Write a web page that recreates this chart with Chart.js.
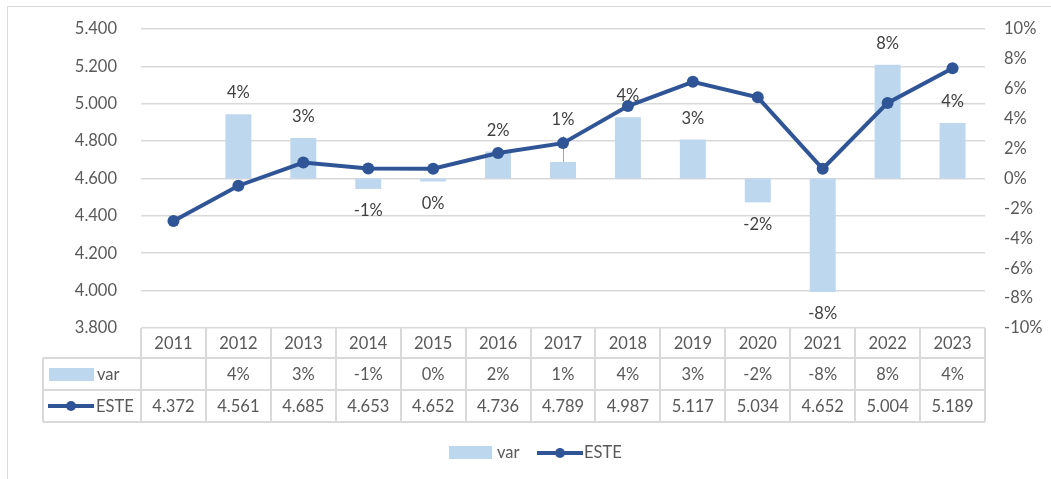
<!DOCTYPE html>
<html><head><meta charset="utf-8">
<script src="https://cdn.jsdelivr.net/npm/chart.js@4.4.1/dist/chart.umd.min.js"></script>
<style>html,body{margin:0;padding:0;background:#fff;overflow:hidden}</style>
</head><body>
<canvas id="c" width="1051" height="479"></canvas>
<script>
const years = ['2011','2012','2013','2014','2015','2016','2017','2018','2019','2020','2021','2022','2023'];
const varPct = [null, 4.3, 2.7, -0.7, -0.2, 1.8, 1.1, 4.1, 2.6, -1.6, -7.6, 7.6, 3.7];
const varLabels = ['', '4%', '3%', '-1%', '0%', '2%', '1%', '4%', '3%', '-2%', '-8%', '8%', '4%'];
const este = [4372, 4561, 4685, 4653, 4652, 4736, 4789, 4987, 5117, 5034, 4652, 5004, 5189];
const leftMin = 3800, leftMax = 5400, leftStep = 200;
const rightMin = -10, rightMax = 10, rightStep = 2;

const FONT = 'Lato, "Open Sans", sans-serif';
const BAR_COLOR = '#BDD7EE';
const LINE_COLOR = '#2F5597';
const GRID = '#D9D9D9';
const TXT = '#595959';
const LBL = '#404040';

const fmt = n => String(n).replace(/\B(?=(\d{3})+(?!\d))/g, '.');

function labelPositions(chart){
  const bars = chart.getDatasetMeta(1).data;
  const pts = chart.getDatasetMeta(0).data;
  const out = [];
  bars.forEach((bar, i) => {
    const v = varPct[i];
    if (v == null) { out.push(null); return; }
    let y = v >= 0 ? bar.y - 21 : bar.y + 22;
    let leader = false;
    const p = pts[i];
    if (p && Math.abs(y - p.y) < 6) { y = p.y - 23; leader = true; }
    out.push({x: bar.x, y, leader, barTop: bar.y});
  });
  return out;
}

const customPlugin = {
  id: 'custom',
  beforeDraw(chart){
    const ctx = chart.ctx;
    ctx.save();
    ctx.strokeStyle = GRID; ctx.lineWidth = 1;
    ctx.strokeRect(7.5, 6.5, chart.width + 20, chart.height + 20);
    ctx.restore();
  },
  beforeDatasetsDraw(chart){
    const ctx = chart.ctx;
    const pos = labelPositions(chart);
    ctx.save();
    ctx.strokeStyle = '#A6A6A6'; ctx.lineWidth = 1;
    pos.forEach(p => {
      if (p && p.leader) {
        ctx.beginPath();
        ctx.moveTo(Math.round(p.x) + 0.5, p.barTop);
        ctx.lineTo(Math.round(p.x) + 0.5, p.y + 16);
        ctx.stroke();
      }
    });
    ctx.restore();
  },
  afterDatasetsDraw(chart){
    const ctx = chart.ctx;
    const pos = labelPositions(chart);
    ctx.save();
    ctx.font = '16.5px ' + FONT;
    ctx.fillStyle = LBL;
    ctx.textAlign = 'center'; ctx.textBaseline = 'middle';
    pos.forEach((p, i) => { if (p) ctx.fillText(varLabels[i], p.x, p.y); });
    ctx.restore();
  },
  afterDraw(chart){
    const ctx = chart.ctx;
    const area = chart.chartArea;
    const n = years.length;
    const colW = (area.right - area.left) / n;
    const top = area.bottom;
    const r1 = top + 30, r2 = r1 + 32, r3 = r2 + 32;
    const legL = 43;
    ctx.save();
    ctx.strokeStyle = GRID; ctx.lineWidth = 2;
    ctx.beginPath();
    ctx.moveTo(legL, r1); ctx.lineTo(area.right, r1);
    ctx.moveTo(legL, r2); ctx.lineTo(area.right, r2);
    ctx.moveTo(legL, r3); ctx.lineTo(area.right, r3);
    for (let i = 0; i <= n; i++) {
      const x = Math.round(area.left + i * colW);
      ctx.moveTo(x, top); ctx.lineTo(x, r3);
    }
    ctx.moveTo(legL, r1); ctx.lineTo(legL, r3);
    ctx.stroke();

    ctx.font = '16.5px ' + FONT;
    ctx.fillStyle = TXT;
    ctx.textAlign = 'center'; ctx.textBaseline = 'middle';
    for (let i = 0; i < n; i++) {
      const cx = area.left + (i + 0.5) * colW;
      ctx.fillText(years[i], cx, (top + r1) / 2 + 1);
      ctx.fillText(varLabels[i], cx, (r1 + r2) / 2 + 1);
      ctx.fillText(fmt(este[i]), cx, (r2 + r3) / 2 + 1);
    }
    ctx.textAlign = 'left';
    ctx.fillStyle = BAR_COLOR;
    ctx.fillRect(49, (r1 + r2) / 2 - 6, 45, 13);
    ctx.fillStyle = TXT;
    ctx.fillText('var', 97, (r1 + r2) / 2 + 1);
    const ey = (r2 + r3) / 2;
    ctx.strokeStyle = LINE_COLOR; ctx.lineWidth = 4;
    ctx.beginPath(); ctx.moveTo(48, ey); ctx.lineTo(94, ey); ctx.stroke();
    ctx.fillStyle = LINE_COLOR;
    ctx.beginPath(); ctx.arc(71, ey, 5, 0, Math.PI * 2); ctx.fill();
    ctx.fillStyle = TXT;
    ctx.fillText('ESTE', 96, ey + 1);

    const ly = 453;
    ctx.fillStyle = BAR_COLOR;
    ctx.fillRect(449, ly - 7, 43, 13);
    ctx.fillStyle = TXT;
    ctx.fillText('var', 497, ly);
    ctx.strokeStyle = LINE_COLOR; ctx.lineWidth = 4;
    ctx.beginPath(); ctx.moveTo(537, ly); ctx.lineTo(583, ly); ctx.stroke();
    ctx.fillStyle = LINE_COLOR;
    ctx.beginPath(); ctx.arc(560, ly, 5, 0, Math.PI * 2); ctx.fill();
    ctx.fillStyle = TXT;
    ctx.fillText('ESTE', 584, ly);
    ctx.restore();
  }
};

new Chart(document.getElementById('c'), {
  data: {
    labels: years,
    datasets: [
      {
        type: 'line', label: 'ESTE', data: este, yAxisID: 'y', order: 0,
        borderColor: LINE_COLOR, backgroundColor: LINE_COLOR, borderWidth: 4,
        pointRadius: 6, pointHoverRadius: 6, pointBackgroundColor: LINE_COLOR,
        pointBorderWidth: 0, tension: 0, fill: false
      },
      {
        type: 'bar', label: 'var', data: varPct, yAxisID: 'y1', order: 1,
        backgroundColor: BAR_COLOR, borderWidth: 0,
        barPercentage: 0.4, categoryPercentage: 1
      }
    ]
  },
  options: {
    responsive: false, animation: false,
    layout: { padding: { top: 20, bottom: 151, left: 0, right: 0 } },
    plugins: { legend: { display: false }, tooltip: { enabled: false } },
    scales: {
      x: { display: false },
      y: {
        position: 'left', min: leftMin, max: leftMax,
        afterFit: a => { a.width = 141; },
        border: { display: false },
        grid: { color: GRID, lineWidth: 1.5, drawTicks: true, tickLength: 5, tickColor: 'rgba(0,0,0,0)' },
        ticks: { stepSize: leftStep, padding: 19, color: TXT, font: { family: FONT, size: 16.5 }, callback: v => fmt(v) }
      },
      y1: {
        position: 'right', min: rightMin, max: rightMax,
        afterFit: a => { a.width = 66; },
        border: { display: false },
        grid: { display: false, drawTicks: false },
        ticks: { stepSize: rightStep, padding: 19, color: TXT, font: { family: FONT, size: 16.5 }, callback: v => v + '%' }
      }
    }
  },
  plugins: [customPlugin]
});
</script>
</body></html>
